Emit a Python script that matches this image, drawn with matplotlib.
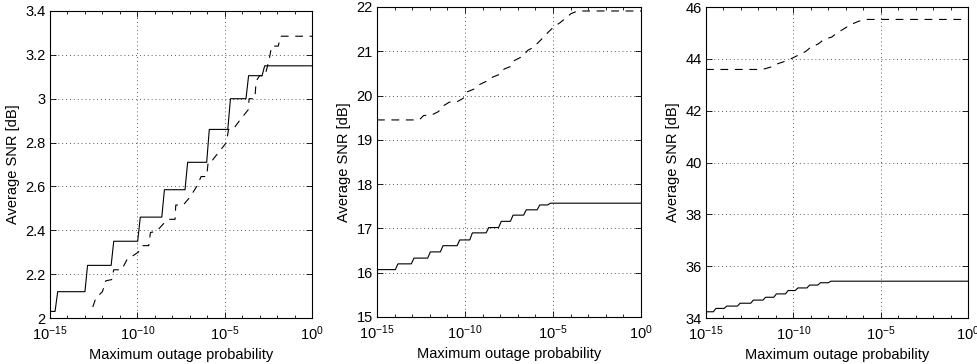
import numpy as np
import matplotlib
matplotlib.use("Agg")
import matplotlib.pyplot as plt
from matplotlib.ticker import FixedLocator, NullFormatter, FuncFormatter

plt.rcParams['font.family'] = ['Liberation Sans', 'DejaVu Sans']
plt.rcParams['mathtext.fontset'] = 'custom'
plt.rcParams['mathtext.rm'] = 'Liberation Sans'
plt.rcParams['font.size'] = 10.5

# ---- data (x given as log10 of max outage probability) ----
# panel 1, solid: staircase levels and where each riser starts
p1_solid_levels = [2.03, 2.12, 2.24, 2.35, 2.46, 2.585, 2.71, 2.86, 3.0, 3.105, 3.15]
p1_solid_steps = [-14.71, -13.0, -11.5, -9.98, -8.6, -7.27, -6.03, -4.82, -3.78, -2.86]
# panel 1, dashed
p1_dash_lx = [-12.55, -12.38, -12.0, -11.8, -11.47, -11.35, -10.9, -10.6, -9.95, -9.7,
              -9.35, -9.25, -8.9, -8.5, -8.2, -7.84, -7.8, -7.37, -7.0, -6.6,
              -6.35, -6.03, -5.94, -5.7, -5.35, -4.9, -4.78, -4.52, -4.15, -3.65,
              -3.6, -3.27, -3.2, -3.0, -2.69, -2.45, -2.31, -1.93, -1.8, 0]
p1_dash_y = [2.05, 2.09, 2.12, 2.17, 2.175, 2.22, 2.22, 2.265, 2.30, 2.33,
             2.33, 2.39, 2.395, 2.43, 2.45, 2.45, 2.515, 2.515, 2.55, 2.60,
             2.645, 2.645, 2.715, 2.72, 2.755, 2.80, 2.86, 2.86, 2.90, 2.95,
             3.0, 3.0, 3.08, 3.105, 3.105, 3.18, 3.24, 3.24, 3.285, 3.285]

# panel 2
p2_solid_levels = [16.07, 16.2, 16.33, 16.47, 16.61, 16.74, 16.9, 17.02, 17.16, 17.3,
                   17.42, 17.53, 17.57]
p2_solid_steps = [-13.96, -13.05, -12.12, -11.4, -10.45, -9.73, -8.8, -8.09, -7.42,
                  -6.67, -5.9, -5.3]
p2_dash_lx = [-15, -12.6, -12.35, -11.9, -11.5, -11.3, -10.9, -10.45, -10.1, -9.9,
              -9.47, -9.22, -8.75, -8.47, -8.03, -7.77, -7.39, -7.2, -6.7, -6.44,
              -6.1, -5.81, -5.53, -5.25, -4.96, -4.62, -4.3, -3.98, -3.6, 0]
p2_dash_y = [19.45, 19.45, 19.55, 19.56, 19.64, 19.75, 19.85, 19.86, 19.94, 20.08,
             20.15, 20.24, 20.33, 20.41, 20.48, 20.6, 20.66, 20.79, 20.89, 21.02,
             21.09, 21.21, 21.32, 21.44, 21.55, 21.64, 21.74, 21.85, 21.91, 21.91]

# panel 3
p3_solid_levels = [34.24, 34.37, 34.46, 34.57, 34.69, 34.8, 34.93, 35.06, 35.16, 35.27,
                   35.36, 35.42]
p3_solid_steps = [-14.58, -13.96, -13.2, -12.44, -11.74, -11.12, -10.45, -9.89, -9.22,
                  -8.6, -8.0]
p3_dash_lx = [-15, -11.77, -11.3, -10.9, -10.5, -10.05, -9.75, -9.3, -9.0, -8.56,
              -8.25, -7.8, -7.5, -7.1, -6.74, -6.3, -5.9, 0]
p3_dash_y = [43.59, 43.59, 43.68, 43.81, 43.9, 44.03, 44.13, 44.28, 44.45, 44.58,
             44.75, 44.84, 45.0, 45.16, 45.31, 45.44, 45.52, 45.52]

y_ranges = [(2, 3.4, 0.2), (15, 22, 1), (34, 46, 2)]
x_major = [1e-15, 1e-10, 1e-5, 1e0]


def staircase(steps, levels, slant=0.15):
    lx = [-15.0]
    y = [levels[0]]
    for i, s in enumerate(steps):
        lx += [s, s + slant]
        y += [levels[i], levels[i + 1]]
    lx.append(0.0)
    y.append(levels[-1])
    return 10.0 ** np.array(lx), np.array(y)


fig = plt.figure(figsize=(9.77, 3.64), dpi=100)
positions = [
    [50 / 977, 46 / 364, 262 / 977, 307 / 364],
    [377 / 977, 47 / 364, 264 / 977, 310 / 364],
    [706 / 977, 46 / 364, 262 / 977, 311 / 364],
]
solids = [(p1_solid_steps, p1_solid_levels),
          (p2_solid_steps, p2_solid_levels),
          (p3_solid_steps, p3_solid_levels)]
dashes = [(p1_dash_lx, p1_dash_y), (p2_dash_lx, p2_dash_y), (p3_dash_lx, p3_dash_y)]

for pos, (steps, levels), (dlx, dy), (y0, y1, dyt) in zip(positions, solids, dashes, y_ranges):
    ax = fig.add_axes(pos)
    sx, sy = staircase(steps, levels)
    ax.plot(sx, sy, color='k', linewidth=0.8)
    ax.plot(10.0 ** np.array(dlx), dy, color='k', linewidth=0.8, dashes=(7, 6))

    ax.set_xscale('log')
    ax.set_xlim(1e-15, 1)
    ax.set_ylim(y0, y1)
    ax.xaxis.set_major_locator(FixedLocator(x_major))
    ax.xaxis.set_minor_locator(FixedLocator(10.0 ** np.arange(-15, 1)))
    ax.xaxis.set_minor_formatter(NullFormatter())
    ax.yaxis.set_major_locator(FixedLocator(np.arange(y0, y1 + dyt / 2, dyt)))
    ax.yaxis.set_major_formatter(FuncFormatter(lambda v, p: '%g' % round(v, 3)))

    ax.tick_params(which='both', direction='in', top=True, right=True, pad=3)
    ax.tick_params(axis='x', which='major', pad=4.5)
    ax.tick_params(which='major', length=4, width=0.6)
    ax.tick_params(which='minor', length=2, width=0.6)
    ax.grid(True, which='major', color='0.35', linewidth=0.7, dashes=(1, 3))
    for sp in ax.spines.values():
        sp.set_linewidth(0.8)

    ax.set_xlabel('Maximum outage probability', labelpad=3.5)
    ax.set_ylabel('Average SNR [dB]', labelpad=4)

fig.savefig('out.png', dpi=100)
